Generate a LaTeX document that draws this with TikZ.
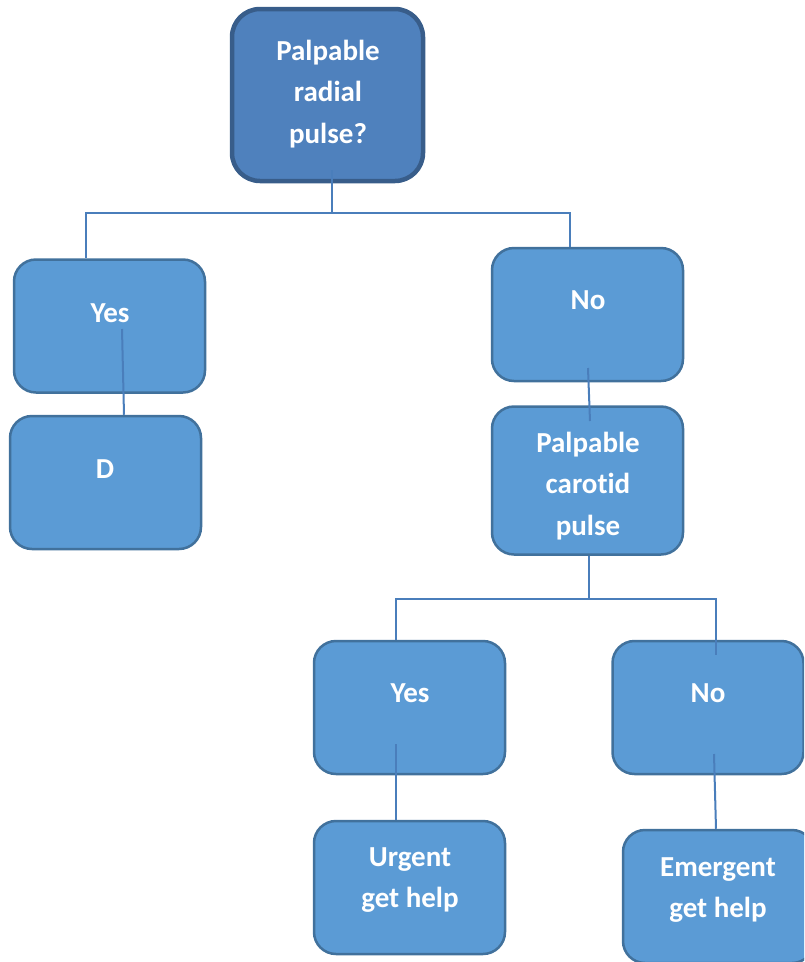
\documentclass[tikz,border=0pt]{standalone}
\usepackage{fontspec}
\setmainfont{Carlito}[Ligatures=NoCommon]
\usepackage{xcolor}
\definecolor{boxfill}{HTML}{5B9BD5}
\definecolor{boxline}{HTML}{41719C}
\definecolor{topfill}{HTML}{4F81BD}
\definecolor{topline}{HTML}{385D8A}
\definecolor{linkcol}{HTML}{4A7EBB}
\usepackage{tikz}
\usetikzlibrary{positioning, shapes}

\begin{document}
\begin{tikzpicture}[x=1pt, y=-1pt,
	box/.style={draw=boxline, fill=boxfill, line width=2.5pt, rounded corners=22pt,
		minimum width=\bw, minimum height=\bh, inner sep=0pt},
	topbox/.style={box, draw=topline, fill=topfill, line width=4.5pt, rounded corners=28pt,
		minimum height=172},
	txt/.style={text=white, font=\bfseries\fontsize{29}{41.5}\selectfont, align=center, inner sep=0pt},
	link/.style={draw=linkcol, line width=2pt}
]

\def \bw{191}
\def \bh{133}

\useasboundingbox (0,0) rectangle (804,962);
\clip (0,0) rectangle (804,962);

% boxes
\node[topbox] (radial) at (327.5, 95) {};
\node[box] (yesA) at (109.5, 326) {};
\node[box] (resD) at (105.5, 482.5) {};
\node[box] (noA) at (587.5, 314.5) {};
\node[box, minimum height=148] (carotid) at (587.5, 480.5) {};
\node[box] (yesB) at (409.5, 707.5) {};
\node[box] (noB) at (708, 707.5) {};
\node[box] (urgent) at (409.5, 887.5) {};
\node[box] (emergent) at (718.5, 896.5) {};

% texts
\node[txt] (radialtxt) at (328, 94) {Palpable\\radial\\pulse?};
\node[txt] (yesAtxt) at (110, 313) {Yes};
\node[txt] (resDtxt) at (105, 469) {D};
\node[txt] (noAtxt) at (588, 300) {No};
\node[txt] (carotidtxt) at (588, 486) {Palpable\\carot\kern0pt id\\pulse};
\node[txt] (yesBtxt) at (410, 693) {Yes};
\node[txt] (noBtxt) at (708, 693) {No};
\node[txt] (urgenttxt) at (410, 880) {Urgent\\get help};
\node[txt] (emergenttxt) at (718, 890) {Emergent\\get help};

% first split
\draw[link] ([shift={(4.5,75)}]radial.center) -- ([shift={(4.5,0)}]radial.south) -- ++(0,30) -| ([shift={(-23.5,0)}]yesA.north);
\draw[link] ([shift={(4.5,0)}]radial.south) -- ++(0,30) -| ([shift={(-17.5,0)}]noA.north);
\draw[link] ([shift={(12.5,3)}]yesA.center) -- ([shift={(18.5,0)}]resD.north); % yes -> D
\draw[link] ([shift={(0.5,53.5)}]noA.center) -- ([shift={(2.5,-59.5)}]carotid.center); % no -> carotid

% second split
\draw[link] ([shift={(1.5,0)}]carotid.south) -- ++(0,43) -| ([shift={(-13.5,0)}]yesB.north);
\draw[link] ([shift={(1.5,0)}]carotid.south) -- ++(0,43) -| ([shift={(8,15)}]noB.north);
\draw[link] ([shift={(-13.5,36.5)}]yesB.center) -- ([shift={(-13.5,0)}]urgent.north); % yes -> urgent
\draw[link] ([shift={(6,46.5)}]noB.center) -- ([shift={(-2.5,0)}]emergent.north); % no -> emergent

\end{tikzpicture}
\end{document}
